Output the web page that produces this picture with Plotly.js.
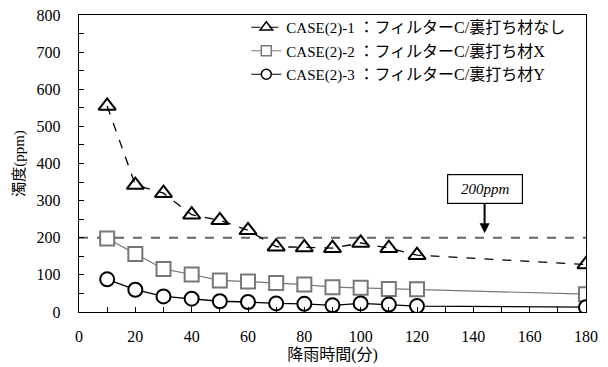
<!DOCTYPE html>
<html>
<head>
<meta charset="utf-8">
<script src="https://cdn.plot.ly/plotly-3.0.1.min.js"></script>
<style>html,body{margin:0;padding:0;background:#fff;}#chart{width:608px;height:367px;}</style>
</head>
<body>
<div id="chart"></div>
<script>
const time = [10, 20, 30, 40, 50, 60, 70, 80, 90, 100, 110, 120, 180];
const case1 = [555, 342, 320, 262, 247, 220, 176, 174, 172, 186, 172, 153, 128];
const case2 = [198, 156, 116, 101, 85, 82, 78, 74, 67, 65, 62, 61, 48];
const case3 = [88, 60, 42, 36, 29, 27, 23, 22, 18, 23, 20, 16, 13];
const caseIds = ["CASE(2)-1", "CASE(2)-2", "CASE(2)-3"];
const caseDescs = ["フィルターC/裏打ち材なし", "フィルターC/裏打ち材X", "フィルターC/裏打ち材Y"];
const thresholdValue = 200;
const thresholdLabel = "200ppm";
const xTickVals = [0, 20, 40, 60, 80, 100, 120, 140, 160, 180];
const yTickVals = [0, 100, 200, 300, 400, 500, 600, 700, 800];

const FONT = "Liberation Serif, Times New Roman, Noto Sans CJK JP, serif";

function legendName(i) {
  return caseIds[i] + ' <span style="font-size:16px">：' + caseDescs[i] + '</span>';
}

const styles = [
  {line: {color: "#000", width: 1.3, dash: "dash"}, sym: "triangle-up-open", mcolor: "#000", lcolor: "#000", size: 15, lsize: 11},
  {line: {color: "#777", width: 1.2}, sym: "square", mcolor: "#fff", lcolor: "#777", size: 14, lsize: 10},
  {line: {color: "#000", width: 1.3}, sym: "circle", mcolor: "#fff", lcolor: "#000", size: 14, lsize: 10}
];
const seriesY = [case1, case2, case3];

const traces = [];
// data traces
seriesY.forEach((ys, i) => {
  const s = styles[i];
  traces.push({
    x: time, y: ys, name: legendName(i), type: "scatter", mode: "lines+markers",
    showlegend: false, legendgroup: "g" + i,
    line: s.line,
    marker: {symbol: s.sym, size: s.size, color: s.mcolor, line: {width: 2, color: s.lcolor}}
  });
});
// legend entries (small symbols, as in the reference legend)
seriesY.forEach((ys, i) => {
  const s = styles[i];
  traces.push({
    x: [null], y: [null], name: legendName(i), type: "scatter", mode: "lines+markers",
    showlegend: true, legendgroup: "g" + i,
    line: Object.assign({}, s.line, {width: 1.2}),
    marker: {symbol: s.sym, size: s.lsize, color: s.mcolor, line: {width: 1.5, color: s.lcolor}}
  });
});

const layout = {
  width: 608, height: 367,
  margin: {l: 79, r: 22, t: 14, b: 55},
  paper_bgcolor: "#fff", plot_bgcolor: "#fff",
  font: {family: FONT, size: 16, color: "#000"},
  showlegend: true,
  legend: {
    x: 0.33, y: 1.01, xanchor: "left", yanchor: "top",
    bgcolor: "rgba(0,0,0,0)", borderwidth: 0,
    itemwidth: 30, tracegroupgap: 1,
    font: {family: FONT, size: 15, color: "#000"}
  },
  xaxis: {
    range: [0, 180], tickvals: xTickVals, ticks: "inside", ticklen: 5,
    tickcolor: "#000", showline: true, linecolor: "#000", linewidth: 1.3, mirror: true,
    showgrid: false, zeroline: false, ticklabelstandoff: 9,
    tickfont: {family: FONT, size: 16},
    minor: {dtick: 10, ticks: "inside", ticklen: 5, tickcolor: "#000"},
    title: {text: "降雨時間(分)", font: {family: FONT, size: 16}, standoff: 5}
  },
  yaxis: {
    range: [0, 800], tickvals: yTickVals, ticks: "inside", ticklen: 5,
    tickcolor: "#000", showline: true, linecolor: "#000", linewidth: 1.3, mirror: true,
    showgrid: false, zeroline: false, ticklabelstandoff: 14,
    tickfont: {family: FONT, size: 16},
    minor: {dtick: 50, ticks: "inside", ticklen: 5, tickcolor: "#000"},
    title: {text: "濁度(ppm)", font: {family: FONT, size: 15}, standoff: 8}
  },
  shapes: [{
    type: "line", xref: "paper", x0: 0, x1: 1, yref: "y", y0: thresholdValue, y1: thresholdValue,
    line: {color: "#666", width: 2, dash: "dash"}, layer: "below"
  }],
  annotations: [{
    x: 144, y: thresholdValue + 12, xref: "x", yref: "y",
    text: "<i>" + thresholdLabel + "</i>", showarrow: true,
    ax: 0, ay: -44, arrowhead: 2, arrowsize: 1, arrowwidth: 2, arrowcolor: "#000",
    bordercolor: "#000", borderwidth: 1.2, borderpad: 2, bgcolor: "#fff",
    font: {family: FONT, size: 15, color: "#000"}, width: 70, height: 24
  }]
};

Plotly.newPlot("chart", traces, layout, {displayModeBar: false, staticPlot: true});
</script>
</body>
</html>
